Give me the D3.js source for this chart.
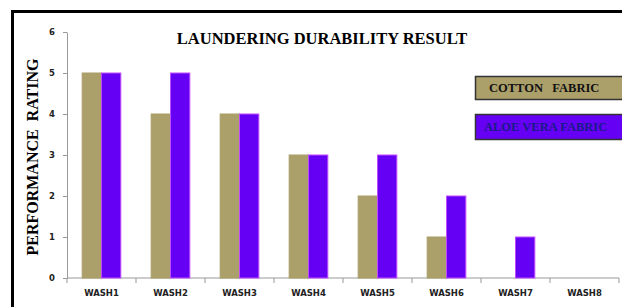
<!DOCTYPE html>
<html>
<head>
<meta charset="utf-8">
<script src="https://cdn.jsdelivr.net/npm/d3@7"></script>
<style>
  body { margin: 0; background: #fff; }
  svg { display: block; }
  .tick-font { font-family: "DejaVu Sans", sans-serif; font-weight: bold; font-size: 8.5px; fill: #222; }
  .serif-b { font-family: "Liberation Serif", "Times New Roman", serif; font-weight: bold; }
</style>
</head>
<body>
<div id="vis"></div>
<script>
// chart data
const WASHES = ["WASH1", "WASH2", "WASH3", "WASH4", "WASH5", "WASH6", "WASH7", "WASH8"];
const SERIES = ["COTTON   FABRIC", "ALOE VERA FABRIC"];
const COTTON = [5, 4, 4, 3, 2, 1, 0, 0];
const ALOE = [5, 5, 4, 3, 3, 2, 1, 0];
const Y_TICKS = [0, 1, 2, 3, 4, 5, 6];

const WIDTH = 622, HEIGHT = 307;
const MARGINS = {left: 67, right: 3, top: 32, bottom: 29};
const COLORS = {fill: ["#ab9f6a", "#6600f5"], stroke: ["#a99d68", "#c04cff"]};

const FRAME = d3.select("#vis")
                .append("svg")
                .attr("width", WIDTH)
                .attr("height", HEIGHT);

// outer border of the chart
FRAME.append("rect")
     .attr("x", 12.5).attr("y", 11.5)
     .attr("width", 700).attr("height", 400)
     .attr("fill", "none")
     .attr("stroke", "#000")
     .attr("stroke-width", 3);

const X_SCALE = d3.scaleBand()
                  .domain(WASHES)
                  .range([MARGINS.left, WIDTH - MARGINS.right]);

const BW = X_SCALE.bandwidth();
const X_SUB = d3.scaleBand()
                .domain(SERIES)
                .range([BW * 0.22, BW * 0.78]);

const Y_SCALE = d3.scaleLinear()
                  .domain([0, 6])
                  .range([HEIGHT - MARGINS.bottom, MARGINS.top]);

// y axis
const yAxis = FRAME.append("g")
     .attr("transform", "translate(" + MARGINS.left + ",0)")
     .call(d3.axisLeft(Y_SCALE).tickValues(Y_TICKS).tickFormat(d3.format("d"))
             .tickSize(4).tickSizeOuter(0).tickPadding(8));
yAxis.select(".domain").attr("stroke", "#999");
yAxis.selectAll("line").attr("stroke", "#999");
yAxis.selectAll("text").attr("class", "tick-font");

// x axis: labels centered, ticks at band edges
const xAxis = FRAME.append("g")
     .attr("transform", "translate(0," + Y_SCALE(0) + ")")
     .call(d3.axisBottom(X_SCALE).tickSize(0).tickPadding(12));
xAxis.select(".domain").remove();
xAxis.selectAll("text").attr("class", "tick-font");

FRAME.append("line")
     .attr("x1", X_SCALE.range()[0]).attr("x2", X_SCALE.range()[1])
     .attr("y1", Y_SCALE(0)).attr("y2", Y_SCALE(0))
     .attr("stroke", "#999");

const EDGES = WASHES.map(d => X_SCALE(d)).concat([X_SCALE.range()[1]]);
FRAME.selectAll("edgeTicks")
     .data(EDGES)
     .enter().append("line")
     .attr("x1", d => d).attr("x2", d => d)
     .attr("y1", Y_SCALE(0)).attr("y2", Y_SCALE(0) + 5)
     .attr("stroke", "#999");

// bars
const BAR_DATA = [];
WASHES.forEach((w, i) => {
  BAR_DATA.push({wash: w, s: 0, v: COTTON[i]});
  BAR_DATA.push({wash: w, s: 1, v: ALOE[i]});
});

FRAME.selectAll("bar")
     .data(BAR_DATA.filter(d => d.v > 0))
     .enter().append("rect")
     .attr("x", d => X_SCALE(d.wash) + X_SUB(SERIES[d.s]))
     .attr("y", d => Y_SCALE(d.v))
     .attr("width", X_SUB.bandwidth())
     .attr("height", d => Y_SCALE(0) - Y_SCALE(d.v))
     .attr("fill", d => COLORS.fill[d.s])
     .attr("stroke", d => COLORS.stroke[d.s])
     .attr("stroke-width", 1);

// title
FRAME.append("text")
     .attr("class", "serif-b")
     .attr("x", 322).attr("y", 44)
     .attr("text-anchor", "middle")
     .attr("font-size", "16.5px")
     .text("LAUNDERING DURABILITY RESULT");

// y label
FRAME.append("text")
     .attr("class", "serif-b")
     .attr("transform", "translate(38,157) rotate(-90)")
     .attr("text-anchor", "middle")
     .attr("font-size", "16px")
     .style("white-space", "pre")
     .text("PERFORMANCE  RATING");

// legend boxes
const LEG = [{y: 76, h: 23, tx: 489, ty: 92, color: "#111"},
             {y: 114, h: 25, tx: 484, ty: 131, color: "#1a1a8a"}];
LEG.forEach((l, i) => {
  FRAME.append("rect")
       .attr("x", 475.5).attr("y", l.y + 0.5)
       .attr("width", 160).attr("height", l.h)
       .attr("fill", COLORS.fill[i])
       .attr("stroke", "#333")
       .attr("stroke-width", 1.5);
  FRAME.append("text")
       .attr("class", "serif-b")
       .attr("x", l.tx).attr("y", l.ty)
       .attr("font-size", "12.5px")
       .attr("fill", l.color)
       .style("white-space", "pre")
       .text(SERIES[i]);
});
</script>
</body>
</html>
